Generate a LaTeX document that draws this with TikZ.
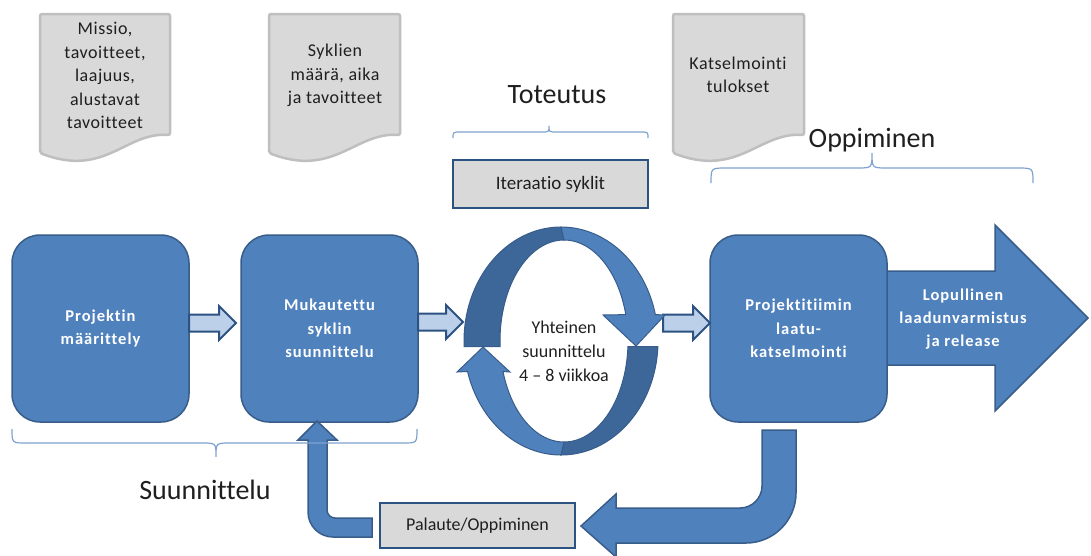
\documentclass[tikz,border=0pt]{standalone}
\usepackage{fontspec}
\setmainfont{Carlito}[Ligatures={NoCommon}]
\newfontfamily\boxfont{Carlito}[LetterSpace=6, Ligatures={NoCommon}]
\newfontfamily\docfont{Carlito}[LetterSpace=3, Ligatures={NoCommon}]
\usetikzlibrary{calc}

\definecolor{pblue}{HTML}{4F81BD}
\definecolor{pedge}{HTML}{385D8A}
\definecolor{pdark}{HTML}{3D6699}
\definecolor{plight}{HTML}{BDD0E9}
\definecolor{pnavy}{HTML}{2B5282}
\definecolor{dgray}{HTML}{D9D9D9}
\definecolor{dedge}{HTML}{BFBFBF}
\definecolor{bracecol}{HTML}{7FA3D0}
\definecolor{ink}{HTML}{1F1F1F}

% light block arrow between two stages: start x, tip x, centre y
\newcommand\flowarrow[3]{%
  \draw[flow] (#1,#3-8.5) -- (#2-17,#3-8.5) -- (#2-17,#3-17) -- (#2,#3)
    -- (#2-17,#3+17) -- (#2-17,#3+8.5) -- (#1,#3+8.5) -- cycle;}
% grey document sheet with a wavy lower edge: left x, right x
\newcommand\docsheet[2]{%
  \draw[docshape] (#1,14) -- (#2,14) -- (#2,135)
    .. controls (#2-45,132) and (#1+65,178) .. (#1,153) -- cycle;}

\begin{document}
\begin{tikzpicture}[x=1pt,y=-1pt,
  stage/.style={draw=pedge, line width=1.5pt, fill=pblue, rounded corners=28pt,
    minimum width=177pt, minimum height=187pt, inner sep=0pt, text=white,
    align=center, font=\boxfont\bfseries\fontsize{16.5}{23.5}\selectfont},
  note/.style={text=ink, align=center, font=\docfont\fontsize{18}{23.5}\selectfont},
  labelbox/.style={draw=pnavy, line width=2.5pt, fill=dgray, text=ink, inner sep=0pt},
  title/.style={text=ink, anchor=base, font=\fontsize{28}{30}\selectfont},
  bracket/.style={draw=bracecol, line width=1.2pt},
  flow/.style={fill=plight, draw=pnavy, line width=2pt, line join=miter},
  docshape/.style={fill=dgray, draw=dedge, line width=2.5pt, rounded corners=2pt},
  ringlight/.style={fill=pblue, draw=pedge, line width=1pt, line join=miter},
  ringdark/.style={fill=pdark, draw=pedge, line width=1pt, line join=miter},
  bigarrow/.style={fill=pblue, draw=pedge, line width=1.5pt, line join=miter}]
\useasboundingbox (0,0) rectangle (1091,555);

% input documents
\docsheet{40}{170}
\docsheet{269}{400}
\docsheet{673}{804}
\node[note] (doc1) at (105,75.5) {Missio,\\tavoitteet,\\laajuus,\\alustavat\\tavoitteet};
\node[note] (doc2) at (335,75.5) {Syklien\\määrä, aika\\ja tavoitteet};
\node[note] (doc3) at (738,75) {Katselmointi\\tulokset};

% phase titles and their brackets
\node[title] (tot) at (557,103) {Toteutus};
\node[title] (opp) at (872,147) {Oppiminen};
\node[title] (suu) at (205,499) {Suunnittelu};
\draw[bracket] (453,138) .. controls (453,132) .. (461,132) -- (541,132)
  .. controls (549,132) .. (549,126) .. controls (549,132) .. (557,132)
  -- (640,132) .. controls (648,132) .. (648,138);
\draw[bracket] (711,183) .. controls (711,168) .. (726,168) -- (857,168)
  .. controls (872,168) .. (872,153) .. controls (872,168) .. (887,168)
  -- (1018,168) .. controls (1033,168) .. (1033,183);

\node[labelbox, minimum width=195pt, minimum height=48pt,
  font=\fontsize{19}{22}\selectfont] (iter) at (550.5,184) {Iteraatio syklit};

% final release arrow behind the review stage
\draw[bigarrow] (880,271) -- (995,271) -- (995,225) -- (1088,318) -- (995,411)
  -- (995,365) -- (880,365) -- cycle;
\node[text=white, align=center, font=\boxfont\bfseries\fontsize{16.5}{23}\selectfont]
  (release) at (963,319) {Lopullinen\\laadunvarmistus\\ja release};

% stages
\node[stage] (def) at (100.5,328.5) {Projektin\\määrittely};
\node[stage] (plan) at (329.5,328.5) {Mukautettu\\syklin\\suunnittelu};
\node[stage] (review) at (798.5,328.5) {Projektitiimin\\laatu-\\katselmointi};

\flowarrow{189}{236}{323}
\flowarrow{418}{463}{322}
\flowarrow{663}{710}{323}

% iteration cycle: two curved arrows on an elliptic ring
\draw[ringdark] plot[domain=2.8:90, samples=50] ({561+97*cos(\x)},{341+114*sin(\x)})
  -- plot[domain=90:3.2, samples=50] ({564+64*cos(\x)},{341+101*sin(\x)}) -- cycle;
\draw[ringdark] plot[domain=177.2:270, samples=50] ({561+97*cos(\x)},{341+114*sin(\x)})
  -- plot[domain=270:176.8, samples=50] ({564+64*cos(\x)},{341+101*sin(\x)}) -- cycle;
\draw[ringlight] plot[domain=90:164.5, samples=50] ({561+97*cos(\x)},{341+114*sin(\x)})
  -- (457,372) -- (483,347) -- (510,372)
  -- plot[domain=162.4:90, samples=50] ({564+64*cos(\x)},{341+101*sin(\x)}) -- cycle;
\draw[ringlight] plot[domain=270:346.6, samples=50] ({561+97*cos(\x)},{341+114*sin(\x)})
  -- (665,315) -- (636,346) -- (603,315)
  -- plot[domain=344.85:270, samples=50] ({564+64*cos(\x)},{341+101*sin(\x)}) -- cycle;
\node[text=ink, align=center, font=\fontsize{18}{24}\selectfont] (cycle) at (564,351)
  {Yhteinen\\suunnittelu\\4 – 8 viikkoa};

% feedback loop
\node[labelbox, minimum width=195pt, minimum height=45pt,
  font=\fontsize{18}{21}\selectfont] (fb) at (477.5,525.5) {Palaute/Oppiminen};
\draw[bigarrow] (762,430) -- (796,430) -- (796,493)
  .. controls (796,520.6) and (773.4,543) .. (746,543) -- (616,543) -- (616,557)
  -- (581,526) -- (616,494) -- (616,508) -- (740,508)
  .. controls (752.1,508) and (762,498.1) .. (762,486) -- cycle;
\draw[bigarrow] (372,518) -- (335,518) .. controls (330.6,518) and (327,514.4) .. (327,510)
  -- (327,440) -- (337,440) -- (317,421) -- (298,440) -- (308,440) -- (308,512)
  .. controls (308,525.8) and (319.2,537) .. (333,537) -- (372,537) -- cycle;
\draw[bracket] (12,429) .. controls (12,443) .. (26,443) -- (202,443)
  .. controls (216,443) .. (216,457) .. controls (216,443) .. (230,443)
  -- (403,443) .. controls (417,443) .. (417,429);
\end{tikzpicture}
\end{document}
